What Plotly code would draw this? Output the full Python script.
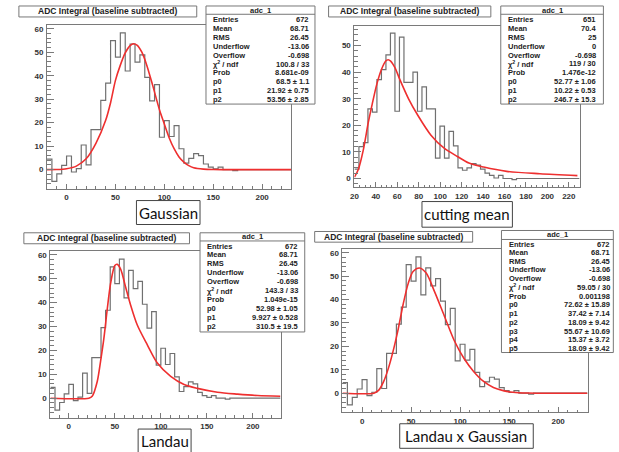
import numpy as np
import plotly.graph_objects as go

W, H = 619, 452

# ---------------- data ----------------
# histogram with 672 entries (panels Gaussian, Landau, Landau x Gaussian): 50 bins from -20 to 230
h672_range = (-20, 230)
h672_counts = [4.5, -5.0, -1.8, 1.8, 5.8, -1.0, 0.4, 10.5, 2.0, 17.0,
               17.0, 29.5, 36.8, 54.9, 47.9, 58.2, 42.0, 53.5, 45.8, 48.9,
               39.3, 29.3, 36.2, 13.8, 20.9, 14.1, 18.7, 8.9, 2.8, 4.8,
               6.8, 6.0, 2.4, 1.1, 0.3, 1.1, 0.0, 0.0, -0.4, 0.0,
               0.0, 0.0, 0.0, 0.0, 0.0, 0.0, 0.0, 0.0, 0.0, 0.0]
# histogram with 651 entries (cutting mean): 50 bins from 20 to 230
h651_range = (20, 230)
h651_counts = [3.5, 12.0, 13.5, 26.2, 25.0, 37.2, 41.0, 46.5, 54.7, 25.3,
               53.2, 36.2, 36.2, 40.0, 25.3, 34.5, 26.2, 26.2, 7.7, 19.7,
               7.7, 17.7, 12.3, 4.0, 3.1, 4.0, 5.6, 5.0, 3.5, 2.0,
               1.2, 0.2, 1.2, 0.0, 0.0, -0.4, 0.0, 0.0, 0.0, 0.0,
               0.0, 0.0, 0.0, 0.0, 0.0, 0.0, 0.0, 0.0, 0.0, 0.0]

# fit curves
gaus_x = [-20, -10, 0, 10, 20, 30, 40, 45, 50, 55, 60, 65, 68.5, 72, 77, 82, 88, 95,
          100, 105, 110, 115, 120, 125, 130, 140, 150, 160, 230]
gaus_y = [0.0, 0.05, 0.4, 1.5, 4.6, 11.2, 21.0, 28.5, 38.0, 44.5, 49.7, 52.8, 53.6, 53.0,
          50.0, 44.5, 36.0, 25.5, 19.4, 13.5, 8.9, 5.4, 3.2, 1.7, 0.8, 0.2, 0.03, 0.0, 0.0]

cut_x = [20, 23.7, 28.3, 32.9, 36.6, 40.9, 45.2, 49.2, 51.4, 53.8, 57.8, 62.2, 70.5,
         79.1, 91.4, 103.7, 116, 126.8, 140.6, 162, 193, 228]
cut_y = [0.5, 3.5, 10.8, 21.0, 28.0, 35.5, 41.0, 44.2, 44.7, 44.2, 41.7, 37.4, 30.0,
         23.8, 16.3, 11.4, 8.3, 5.8, 4.3, 2.7, 1.8, 1.1]

lan_x = [-20, 21.8, 25.4, 30.9, 34.5, 38.1, 41.7, 45.4, 50, 52.6, 56.3, 61.7, 67.2,
         74.4, 85.3, 96.2, 110.7, 125.2, 139.7, 161.5, 183.3, 205.1, 230]
lan_y = [0.0, 0.0, 0.8, 7.0, 15.4, 25.0, 37.0, 48.0, 55.5, 56.0, 54.0, 46.5, 38.9,
         30.6, 22.3, 14.7, 9.1, 5.7, 4.1, 2.5, 1.7, 1.1, 0.8]

lg_x = [-20, 12, 16.8, 21.8, 26.8, 31.9, 36.9, 41.9, 47, 52, 58.5, 65.4, 73.8, 83.9,
        94, 104, 114, 124, 134, 144, 154, 168, 230]
lg_y = [0.0, 0.0, 1.2, 4.8, 10.6, 18.4, 27.5, 38.0, 46.8, 52.0, 53.5, 51.3, 43.5, 33.0,
        22.5, 14.8, 9.2, 5.0, 2.4, 1.1, 0.4, 0.05, 0.0]

stat_labels = ["Entries", "Mean", "RMS", "Underflow", "Overflow", "χ<sup>2</sup> / ndf", "Prob"]
p1_vals = ["672", "68.71", "26.45", "-13.06", "-0.698", "100.8 / 33", "8.681e-09",
           "68.5 ± 1.1", "21.92 ± 0.75", "53.56 ± 2.85"]
p2_vals = ["651", "70.4", "25", "0", "-0.698", "119 / 30", "1.476e-12",
           "52.77 ± 1.06", "10.22 ± 0.53", "246.7 ± 15.3"]
p3_vals = ["672", "68.71", "26.45", "-13.06", "-0.698", "143.3 / 33", "1.049e-15",
           "52.98 ± 1.05", "9.927 ± 0.528", "310.5 ± 19.5"]
p4_vals = ["672", "68.71", "26.45", "-13.06", "-0.698", "59.05 / 30", "0.001198",
           "72.62 ± 15.89", "37.42 ± 7.14", "18.09 ± 9.42", "55.67 ± 10.69",
           "15.37 ± 3.72", "18.09 ± 9.42"]

hist_title = "ADC Integral (baseline subtracted)"
stat_name = "adc_1"
panel_names = ["Gaussian", "cutting mean", "Landau", "Landau x Gaussian"]

# ---------------- layout helpers ----------------
def X(p):
    return p / W

def Y(p):
    return 1 - p / H

FONT = "Liberation Sans, Arial, Helvetica, sans-serif"
HIST_COL = "#707070"
FRAME_COL = "#7a7a7a"
FIT_COL = "#ee2f2f"

panels = [
    dict(frame=(43.3, 289.3, 24.5, 188.3), xr=(-20, 230), yr=(-8.2, 61.4), xd=50, xm=10, yd=10, ym=2,
         hist=(h672_range, h672_counts), fit=(gaus_x, gaus_y),
         title=(15, 194, 5, 16), stats=(203.3, 313, 5, 103.3), sep=13.3,
         rows=[19, 28, 36.7, 45.7, 54.7, 63.3, 72, 81, 90, 98.7], hdr=9.4,
         lx=208.3, vx=309.3, vals=p1_vals, label=(133.3, 197.3, 200, 224), ly=212),
    dict(frame=(352.7, 579.3, 25, 186.7), xr=(20, 230), yr=(-3.3, 57.4), xd=20, xm=5, yd=10, ym=2,
         hist=(h651_range, h651_counts), fit=(cut_x, cut_y),
         title=(326.7, 490, 5, 16), stats=(500, 603.3, 5, 103.3), sep=13.3,
         rows=[18.3, 27.3, 36.3, 45.3, 54.3, 63, 72, 80.7, 89.7, 98.7], hdr=9.4,
         lx=505.7, vx=598.3, vals=p2_vals, label=(420.7, 511.7, 201, 226.7), ly=213.5),
    dict(frame=(46.7, 278.3, 251, 417.7), xr=(-20, 230), yr=(-8.2, 61.4), xd=50, xm=10, yd=10, ym=2,
         hist=(h672_range, h672_counts), fit=(lan_x, lan_y),
         title=(20, 186.7, 232.3, 243.3), stats=(197.3, 302.7, 232.3, 331.7), sep=240.5,
         rows=[245.7, 254.3, 263.5, 272.5, 281.5, 290.5, 299.5, 308.5, 317.5, 326.5], hdr=236.2,
         lx=202.3, vx=297.5, vals=p3_vals, label=(135, 188.3, 429, 453), ly=440.5),
    dict(frame=(340.7, 587.3, 249, 412.3), xr=(-20, 230), yr=(-8.2, 61.4), xd=50, xm=10, yd=10, ym=2,
         hist=(h672_range, h672_counts), fit=(lg_x, lg_y),
         title=(312.7, 471.7, 231, 241.7), stats=(500.7, 613.3, 230, 352.3), sep=239,
         rows=[243.7, 252.2, 260.8, 269.5, 278.2, 287, 295.7, 304.5, 313.3, 322, 330.8, 339.5, 348.3],
         hdr=234.5, lx=506.7, vx=611.5, vals=p4_vals, label=(398.3, 532.7, 423.7, 448.3), ly=436),
]

fig = go.Figure()
layout = dict(width=W, height=H, margin=dict(l=0, r=0, t=0, b=0),
              paper_bgcolor="white", plot_bgcolor="white", showlegend=False)
shapes, annotations = [], []

for i, p in enumerate(panels):
    sfx = "" if i == 0 else str(i + 1)
    xa, ya = "x" + sfx, "y" + sfx
    x0, x1, y0, y1 = p["frame"]
    tickfont = dict(family=FONT, size=8, color="#333", weight="bold")
    layout["xaxis" + sfx] = dict(
        domain=[X(x0), X(x1)], anchor=ya, range=list(p["xr"]), showline=True, mirror=True,
        linecolor=FRAME_COL, linewidth=1, ticks="inside", ticklen=5, tickcolor=FRAME_COL,
        dtick=p["xd"], tick0=0, showgrid=False, zeroline=False, tickfont=tickfont,
        ticklabelstandoff=1,
        minor=dict(dtick=p["xm"], tick0=0, ticks="inside", ticklen=2.5, tickcolor=FRAME_COL,
                   showgrid=False))
    layout["yaxis" + sfx] = dict(
        domain=[Y(y1), Y(y0)], anchor=xa, range=list(p["yr"]), showline=True, mirror=True,
        linecolor=FRAME_COL, linewidth=1, ticks="inside", ticklen=7, tickcolor=FRAME_COL,
        dtick=p["yd"], tick0=0, showgrid=False, zeroline=False, tickfont=tickfont,
        ticklabelstandoff=1,
        minor=dict(dtick=p["ym"], tick0=0, ticks="inside", ticklen=3.5, tickcolor=FRAME_COL,
                   showgrid=False))

    (lo, hi), counts = p["hist"]
    edges = np.linspace(lo, hi, len(counts) + 1)
    fig.add_trace(go.Scatter(x=edges, y=list(counts) + [counts[-1]], mode="lines",
                             line=dict(color=HIST_COL, width=1.2, shape="hv"),
                             xaxis=xa, yaxis=ya, hoverinfo="skip"))
    fx, fy = p["fit"]
    fig.add_trace(go.Scatter(x=fx, y=fy, mode="lines",
                             line=dict(color=FIT_COL, width=1.6, shape="spline", smoothing=0.8),
                             xaxis=xa, yaxis=ya, hoverinfo="skip"))

    # title box
    tx0, tx1, ty0, ty1 = p["title"]
    shapes.append(dict(type="rect", xref="paper", yref="paper", x0=X(tx0), x1=X(tx1),
                       y0=Y(ty1), y1=Y(ty0), line=dict(color="#777", width=1), fillcolor="white"))
    annotations.append(dict(xref="paper", yref="paper", x=X((tx0 + tx1) / 2), y=Y((ty0 + ty1) / 2),
                            text=hist_title, showarrow=False, xanchor="center", yanchor="middle",
                            font=dict(family=FONT, size=8.5, color="#222", weight="bold")))

    # stats box
    sx0, sx1, sy0, sy1 = p["stats"]
    shapes.append(dict(type="rect", xref="paper", yref="paper", x0=X(sx0), x1=X(sx1),
                       y0=Y(sy1), y1=Y(sy0), line=dict(color="#777", width=1), fillcolor="white"))
    shapes.append(dict(type="line", xref="paper", yref="paper", x0=X(sx0), x1=X(sx1),
                       y0=Y(p["sep"]), y1=Y(p["sep"]), line=dict(color="#777", width=1)))
    annotations.append(dict(xref="paper", yref="paper", x=X((sx0 + sx1) / 2), y=Y(p["hdr"]),
                            text=stat_name, showarrow=False, xanchor="center", yanchor="middle",
                            font=dict(family=FONT, size=7.5, color="#222", weight="bold")))
    vals = p["vals"]
    labels = stat_labels + ["p%d" % k for k in range(len(vals) - len(stat_labels))]
    for lab, val, ry in zip(labels, vals, p["rows"]):
        annotations.append(dict(xref="paper", yref="paper", x=X(p["lx"]), y=Y(ry), text=lab,
                                showarrow=False, xanchor="left", yanchor="middle",
                                font=dict(family=FONT, size=7.5, color="#222", weight="bold")))
        annotations.append(dict(xref="paper", yref="paper", x=X(p["vx"]), y=Y(ry), text=val,
                                showarrow=False, xanchor="right", yanchor="middle",
                                font=dict(family=FONT, size=7.5, color="#222", weight="bold")))

    # method label box
    bx0, bx1, by0, by1 = p["label"]
    shapes.append(dict(type="rect", xref="paper", yref="paper", x0=X(bx0), x1=X(bx1),
                       y0=Y(by1), y1=Y(by0), line=dict(color="#444", width=1), fillcolor="white"))
    annotations.append(dict(xref="paper", yref="paper", x=X((bx0 + bx1) / 2), y=Y(p["ly"]),
                            text=panel_names[i], showarrow=False, xanchor="center", yanchor="middle",
                            font=dict(family="Lato, Open Sans, sans-serif", size=15, color="#111")))

layout["shapes"] = shapes
layout["annotations"] = annotations
fig.update_layout(**layout)
fig.write_html("out.html", config=dict(displayModeBar=False),
               post_script="document.body.style.margin='0';document.body.style.overflow='hidden';")
